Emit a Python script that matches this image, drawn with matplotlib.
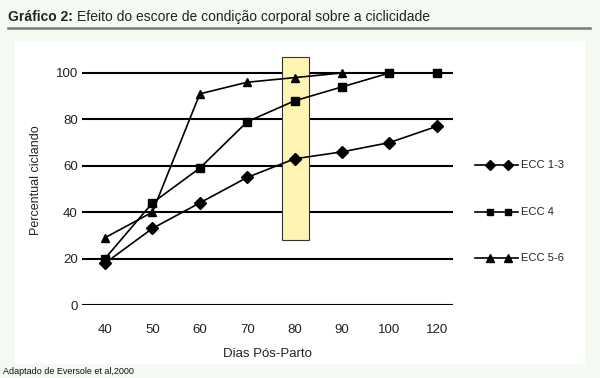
import matplotlib
matplotlib.use("Agg")
import matplotlib.pyplot as plt
import numpy as np
from matplotlib.patches import Rectangle
from matplotlib.lines import Line2D

plt.rcParams['font.family'] = ['Liberation Sans', 'DejaVu Sans']

days = ["40", "50", "60", "70", "80", "90", "100", "120"]
ecc_1_3 = [18, 33, 44, 55, 63, 66, 70, 77]
ecc_4 = [20, 44, 59, 79, 88, 94, 100, 100]
ecc_5_6 = [29, 40, 91, 96, 98, 100, np.nan, np.nan]
series_labels = ["ECC 1-3", "ECC 4", "ECC 5-6"]
series_markers = ["D", "s", "^"]
series_msize = [6.3, 5.5, 6.2]
y_ticks = [0, 20, 40, 60, 80, 100]
highlight_day = "80"
highlight_range = (28, 107)

W, H = 600, 378
bg = "#F4F9F2"
fig = plt.figure(figsize=(6, 3.78), dpi=100, facecolor=bg)

def fx(px):
    return px / W

def fy(py):
    return 1 - py / H

# white panel
fig.add_artist(Rectangle((fx(15), fy(364)), fx(570), (364 - 41) / H,
                         transform=fig.transFigure, facecolor="white",
                         edgecolor="none", zorder=0))
# title
t1 = fig.text(fx(8), fy(17), "Gráfico 2:", fontsize=10, fontweight="bold",
              va="center", ha="left", color="#222222")
fig.canvas.draw()
bb = t1.get_window_extent(fig.canvas.get_renderer())
fig.text(fx(bb.x1 + 4), fy(17),
         "Efeito do escore de condição corporal sobre a ciclicidade",
         fontsize=10, va="center", ha="left", color="#222222")
fig.add_artist(Line2D([fx(8), fx(590)], [fy(28), fy(28)],
                      transform=fig.transFigure, color="#7a7a7a", lw=1.8))
fig.text(fx(3), fy(371), "Adaptado de Eversole et al,2000", fontsize=6.5,
         va="center", ha="left", color="#111111")

ax = fig.add_axes([fx(82), (H - 305) / H, 371 / W, 250.6 / H])
ax.set_facecolor("none")
x = np.arange(len(days))
for s in ax.spines.values():
    s.set_visible(False)

for yv in y_ticks:
    ax.axhline(yv, color="black", lw=1.5, zorder=1)

hx = days.index(highlight_day)
ax.add_patch(Rectangle((hx - 0.26, highlight_range[0]), 0.56,
                       highlight_range[1] - highlight_range[0],
                       facecolor="#FFF5B2", edgecolor="#333333", lw=0.8, zorder=2))

for vals, lab, mk, ms, z in zip([ecc_1_3, ecc_4, ecc_5_6], series_labels,
                                series_markers, series_msize, [4, 4, 3]):
    ax.plot(x, vals, color="black", lw=1.2, marker=mk, markersize=ms,
            label=lab, zorder=z)

ax.set_xlim(-0.485, 7.34)
ax.set_ylim(0, 108)
ax.set_xticks(x)
ax.set_xticklabels(days, fontsize=9.5)
ax.set_yticks(y_ticks)
ax.set_yticklabels([str(v) for v in y_ticks], fontsize=9.5)
ax.tick_params(axis="both", length=0, colors="#222222")
ax.tick_params(axis="x", pad=14)
ax.tick_params(axis="y", pad=3)
ax.set_xlabel("Dias Pós-Parto", fontsize=9.5, labelpad=8, color="#222222")
ax.set_ylabel("Percentual ciclando", fontsize=9, labelpad=10, color="#222222")

# legend (manual, outside the plot at right)
leg_rows = [165, 212, 258]
for row, lab, mk, ms in zip(leg_rows, series_labels, series_markers, series_msize):
    fig.add_artist(Line2D([fx(475), fx(518)], [fy(row), fy(row)],
                          transform=fig.transFigure, color="black", lw=1.2))
    fig.add_artist(Line2D([fx(490), fx(508)], [fy(row), fy(row)],
                          transform=fig.transFigure, color="black", lw=0,
                          marker=mk, markersize=ms * 0.85))
    fig.text(fx(521), fy(row), lab, fontsize=8, va="center", ha="left",
             color="#222222")

fig.savefig("out.png", dpi=100, facecolor=bg)
